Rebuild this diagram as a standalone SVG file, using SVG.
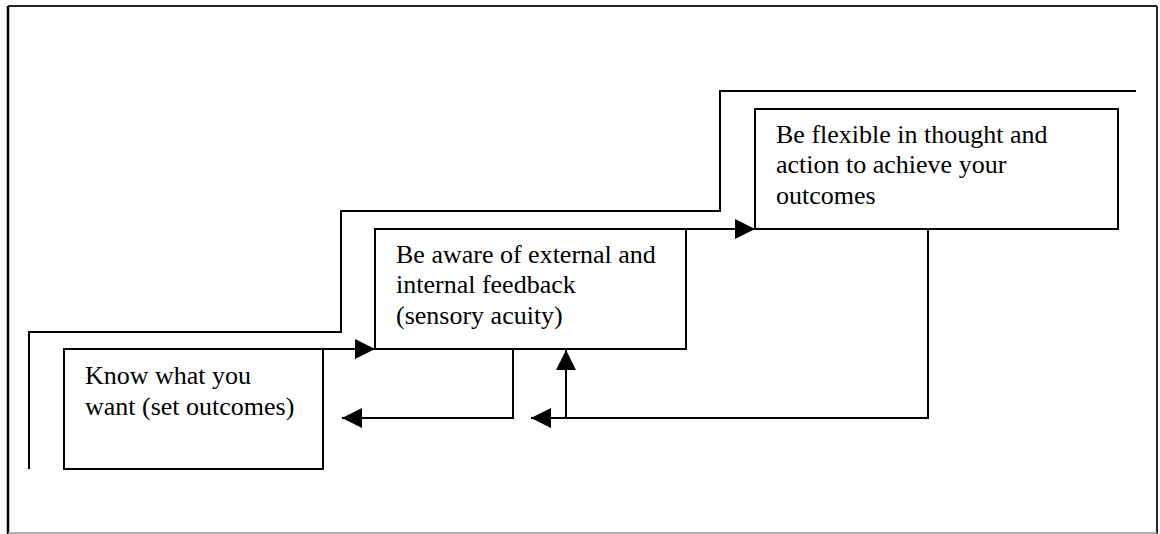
<svg xmlns="http://www.w3.org/2000/svg" width="1160" height="534" viewBox="0 0 1160 534">
<defs>
<style>
.box{fill:#fff;stroke:#000;stroke-width:2}
.ln{fill:none;stroke:#000;stroke-width:2}
text{font-family:'Liberation Serif',serif;font-size:26px;fill:#000}
</style>
<marker id="ah" viewBox="0 0 20 20" refX="20" refY="10" markerWidth="20" markerHeight="20" markerUnits="userSpaceOnUse" orient="auto">
<path d="M0,0 L20,10 L0,20 Z" fill="#000"/>
</marker>
</defs>
<rect x="0" y="0" width="1160" height="534" fill="#fff"/>
<g id="frame">
<line x1="8" y1="6" x2="1157" y2="6" stroke="#222" stroke-width="2"/>
<line x1="8" y1="6" x2="8" y2="534" stroke="#000" stroke-width="2.5"/>
<line x1="1157" y1="6" x2="1157" y2="534" stroke="#222" stroke-width="2"/>
<line x1="8" y1="533" x2="1157" y2="533" stroke="#999" stroke-width="1.5"/>
</g>
<g id="stair">
<polyline class="ln" points="29,469 29,332 341,332 341,211 720,211 720,91 1136,91"/>
</g>
<g id="node1" font-family="Liberation Serif, serif">
<rect class="box" x="64" y="349" width="259" height="120"/>
<text x="85" y="384">Know what you</text>
<text x="85" y="415">want (set outcomes)</text>
</g>
<g id="node2" font-family="Liberation Serif, serif">
<rect class="box" x="375" y="229" width="311" height="120"/>
<text x="396" y="263">Be aware of external and</text>
<text x="396" y="293">internal feedback</text>
<text x="396" y="324">(sensory acuity)</text>
</g>
<g id="node3" font-family="Liberation Serif, serif">
<rect class="box" x="755" y="109" width="363" height="120"/>
<text x="776" y="143">Be flexible in thought and</text>
<text x="776" y="173">action to achieve your</text>
<text x="776" y="204">outcomes</text>
</g>
<g id="connectors">
<polyline class="ln" points="323,349 375,349" marker-end="url(#ah)"/>
<polyline class="ln" points="686,229 755,229" marker-end="url(#ah)"/>
<polyline class="ln" points="513,349 513,418 342,418" marker-end="url(#ah)"/>
<polyline class="ln" points="928,229 928,418 531,418" marker-end="url(#ah)"/>
<polyline class="ln" points="566,418 566,350" marker-end="url(#ah)"/>
</g>
</svg>
